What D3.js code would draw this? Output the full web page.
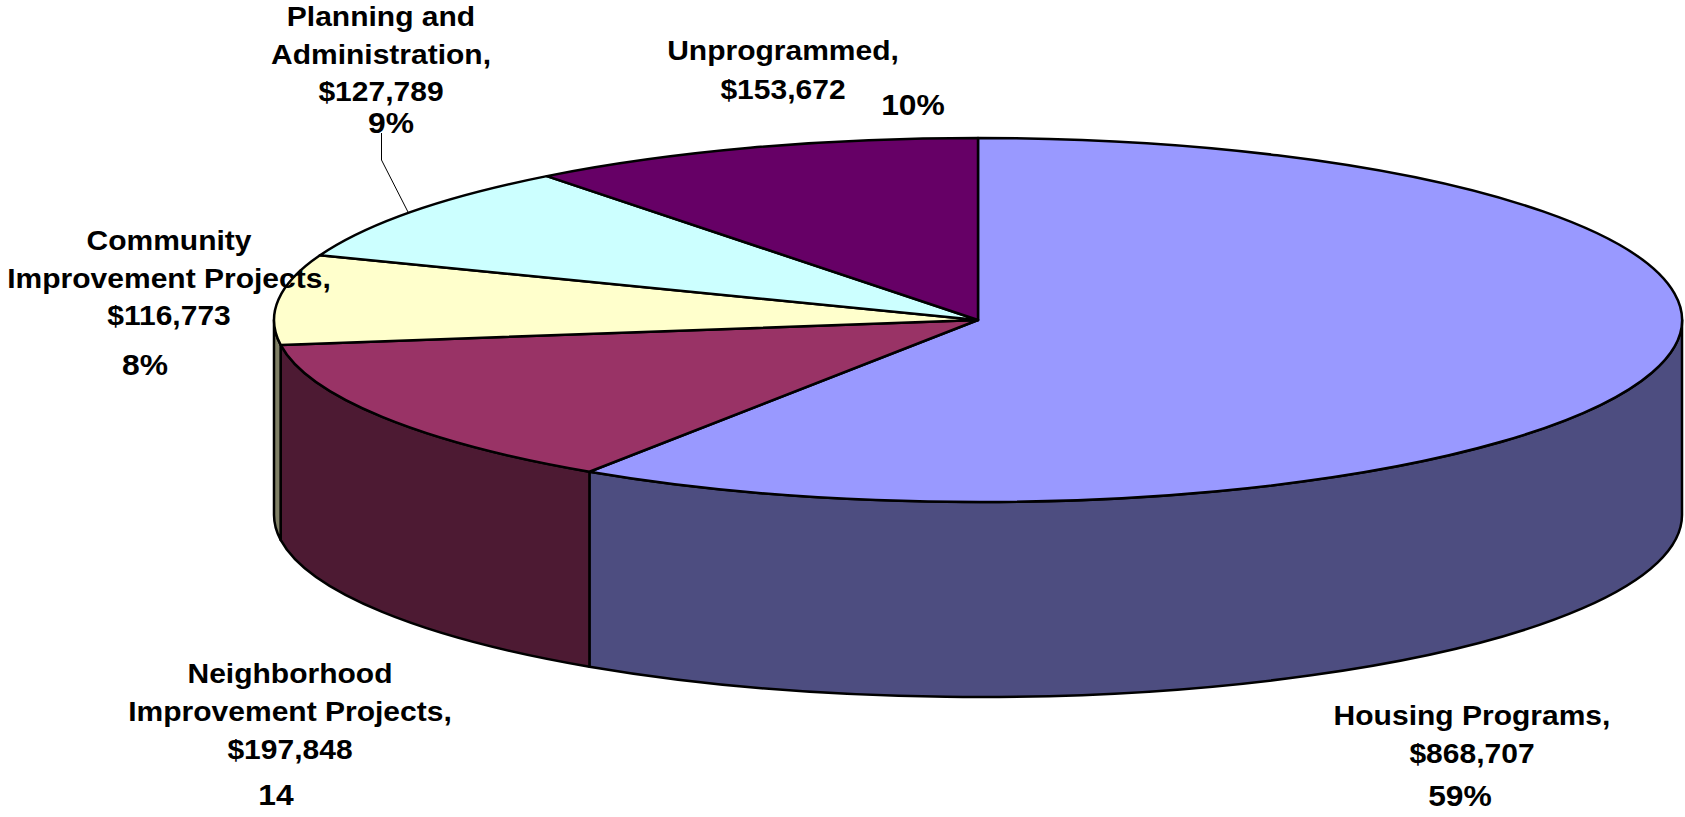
<!DOCTYPE html>
<html>
<head>
<meta charset="utf-8">
<script src="https://cdn.jsdelivr.net/npm/d3@7"></script>
<style>
  html, body { margin: 0; padding: 0; background: #fff; overflow: hidden; }
  svg { display: block; }
  text { font-family: "Liberation Sans", Arial, sans-serif; font-weight: bold; fill: #000; text-anchor: middle; }
</style>
</head>
<body>
<div id="chart"></div>
<script>
// values, clockwise from 12 o'clock
var categories = ["Housing Programs", "Neighborhood Improvement Projects", "Community Improvement Projects", "Planning and Administration", "Unprogrammed"];
var values = [868707, 197848, 116773, 127789, 153672];
var percentLabels = ["59%", "14", "8%", "9%", "10%"];
var topColors = ["#9999FF", "#993366", "#FFFFCC", "#CCFFFF", "#660066"];
var sideColors = ["#4D4D80", "#4D1A33", "#808066", "#668080", "#330033"];

var width = 1685, height = 817;
var cx = 978, cy = 320, rx = 704, ry = 182, depth = 195;

// where the text sits: x and baselines for name lines, value and percent
var labelLayout = [
    {lines: ["Housing Programs,"], x: 1472, y: 725, valueY: 763, pctX: 1460, pctY: 806},
    {lines: ["Neighborhood", "Improvement Projects,"], x: 290, y: 683, valueY: 759, pctX: 276, pctY: 805},
    {lines: ["Community", "Improvement Projects,"], x: 169, y: 250, valueY: 325, pctX: 145, pctY: 375},
    {lines: ["Planning and", "Administration,"], x: 381, y: 26, valueY: 101, pctX: 391, pctY: 133},
    {lines: ["Unprogrammed,"], x: 783, y: 60, valueY: 99, pctX: 913, pctY: 115}
];

var svg = d3.select("#chart").append("svg")
    .attr("width", width)
    .attr("height", height);

var pie = d3.pie().sort(null).value(function(d) { return d; });
var slices = pie(values);

// pie angle (clockwise from top) to a point on the flattened ellipse
function px(a) { return cx + rx * Math.sin(a); }
function py(a, drop) { return cy - ry * Math.cos(a) + (drop || 0); }

function wallPath(a0, a1) {
    return "M" + px(a0) + "," + py(a0) +
        "A" + rx + "," + ry + " 0 0 1 " + px(a1) + "," + py(a1) +
        "L" + px(a1) + "," + py(a1, depth) +
        "A" + rx + "," + ry + " 0 0 0 " + px(a0) + "," + py(a0, depth) + "Z";
}

// side walls, only the front half of the disc shows
var walls = svg.append("g");
slices.forEach(function(s, i) {
    var a0 = Math.max(s.startAngle, Math.PI / 2);
    var a1 = Math.min(s.endAngle, Math.PI * 1.5);
    if (a1 <= a0) return;
    walls.append("path")
        .attr("d", wallPath(a0, a1))
        .attr("fill", sideColors[i])
        .attr("stroke", "#000")
        .attr("stroke-width", 2.5)
        .attr("stroke-linejoin", "round");
});

// top face, circular arcs squashed to an ellipse
var arc = d3.arc().innerRadius(0).outerRadius(rx);
svg.append("g")
    .attr("transform", "translate(" + cx + "," + cy + ") scale(1," + (ry / rx) + ")")
    .selectAll("path")
    .data(slices)
    .join("path")
    .attr("d", arc)
    .attr("fill", function(d, i) { return topColors[i]; })
    .attr("stroke", "#000")
    .attr("stroke-width", 2.5)
    .attr("stroke-linejoin", "round")
    .attr("vector-effect", "non-scaling-stroke");

// leader for Planning and Administration
svg.append("polyline")
    .attr("points", "381.5,133 381.5,160 408,212")
    .attr("fill", "none")
    .attr("stroke", "#000")
    .attr("stroke-width", 1);

// the labels in the picture are stretched sideways
function addText(x, y, str, size, stretch) {
    labels.append("text")
        .attr("transform", "translate(" + x + "," + y + ") scale(" + stretch + ",1)")
        .attr("font-size", size)
        .text(str);
}

var fmt = d3.format("$,");
var labels = svg.append("g");
labelLayout.forEach(function(l, i) {
    l.lines.forEach(function(t, j) {
        addText(l.x, l.y + j * 38, t, 28, 1.072);
    });
    addText(l.x, l.valueY, fmt(values[i]), 28, 1.072);
    addText(l.pctX, l.pctY, percentLabels[i], 30, 1.06);
});
</script>
</body>
</html>
